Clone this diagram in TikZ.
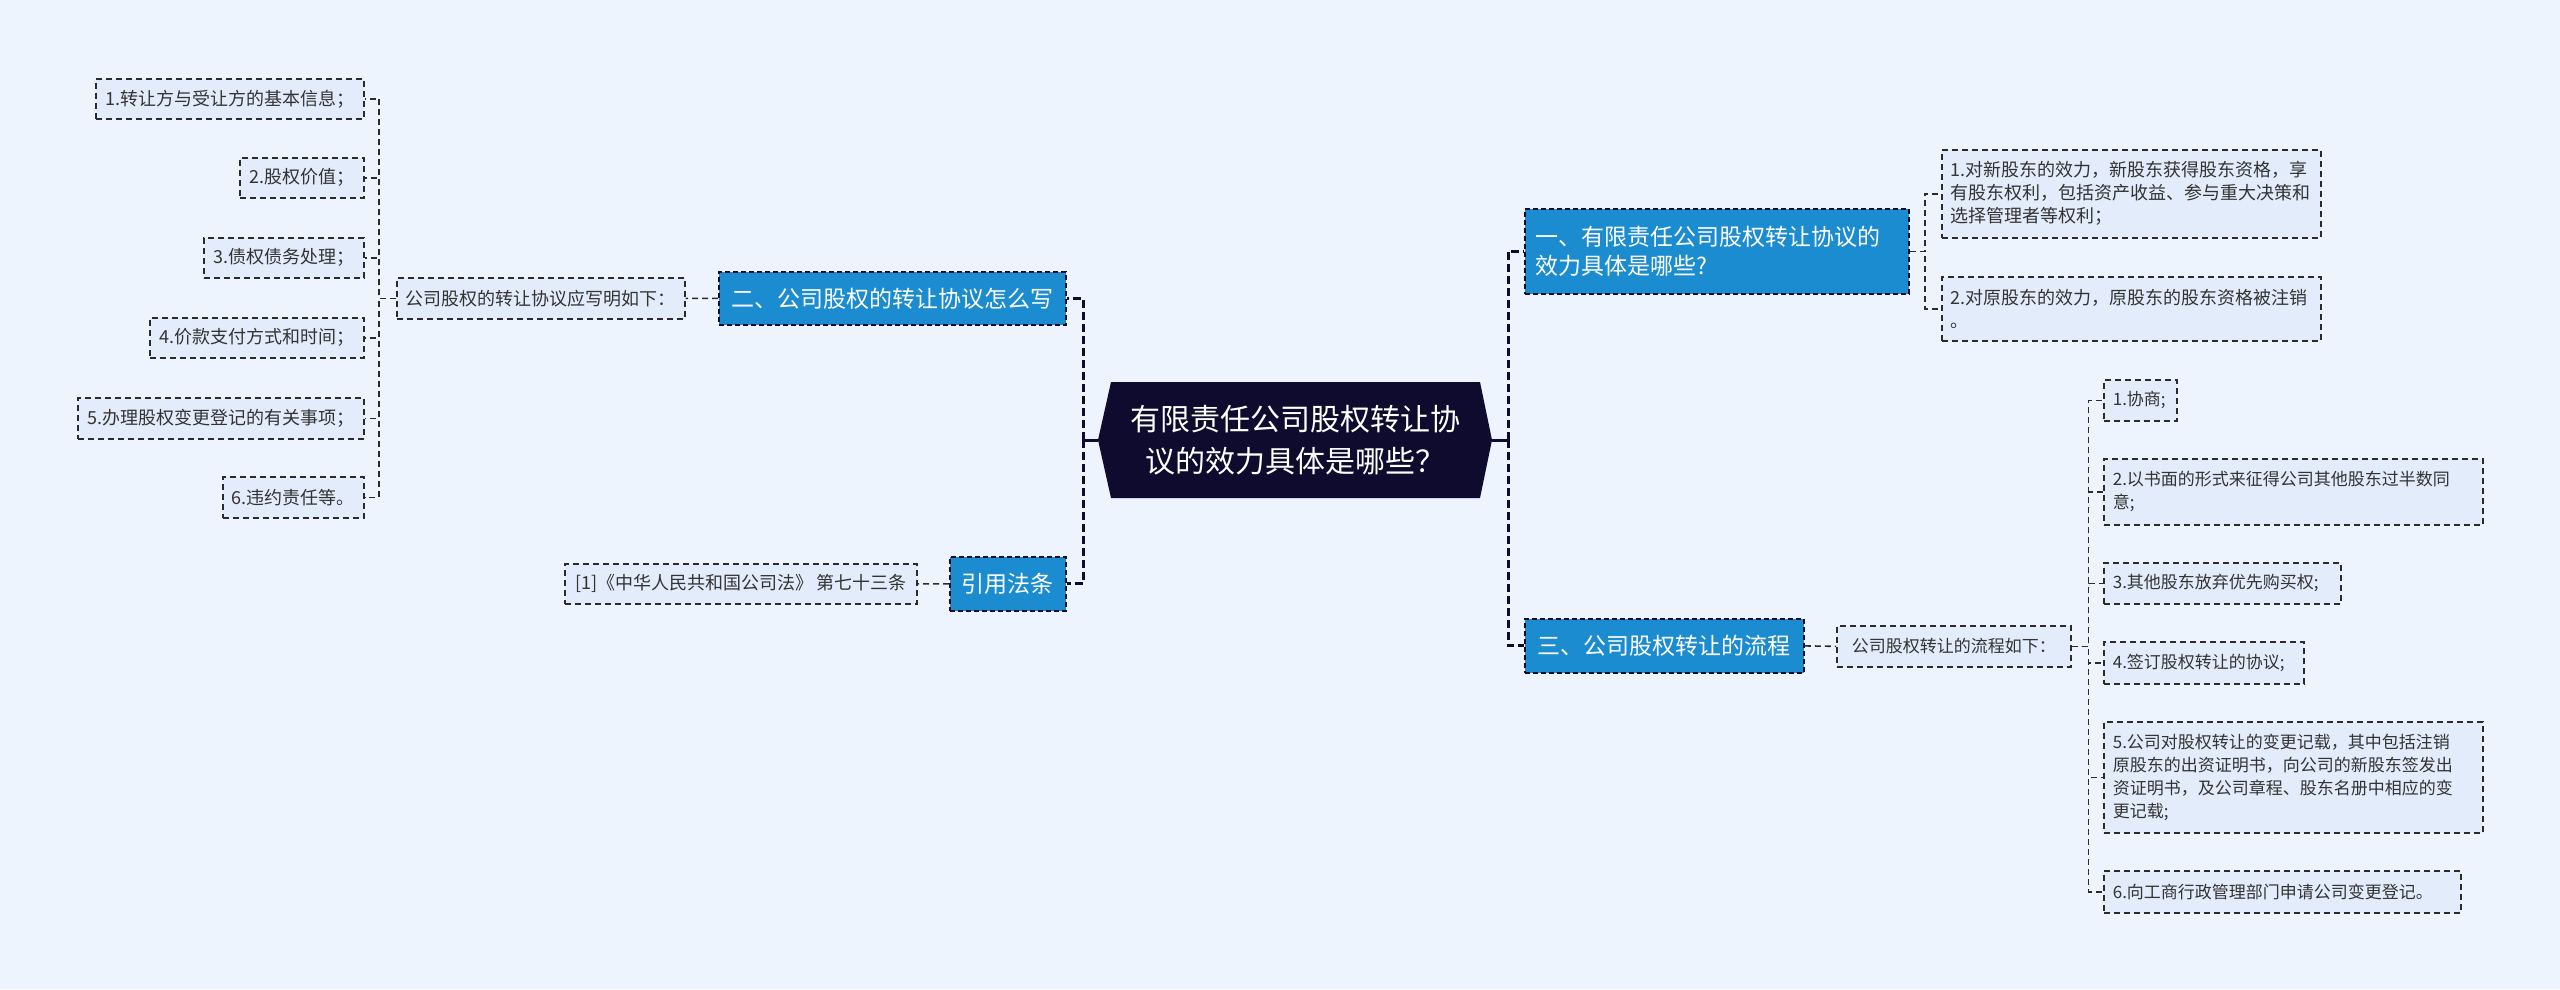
\documentclass[tikz,border=0pt]{standalone}
\usepackage{fontspec}
\setmainfont{Noto Sans CJK SC}
\definecolor{bg}{HTML}{EEF4FE}
\definecolor{sfill}{HTML}{E3ECFB}
\definecolor{sline}{HTML}{2B2B2B}
\definecolor{stext}{HTML}{333333}
\definecolor{blue1}{HTML}{1B8CD0}
\definecolor{navy}{HTML}{0E0B2E}
\begin{document}
\begin{tikzpicture}[x=1pt,y=-1pt,
  sbox/.style={draw=sline, line width=1.6pt, dash pattern=on 6pt off 4pt, fill=sfill, text=stext,
    font=\fontsize{18pt}{23pt}\selectfont, inner sep=0pt, anchor=north west},
  sboxr/.style={sbox, font=\fontsize{17pt}{23pt}\selectfont},
  multi/.style={align=left, inner xsep=9pt},
  bbox/.style={draw=navy, line width=1.8pt, dash pattern=on 5pt off 3pt, fill=blue1, text=white,
    font=\fontsize{23pt}{29pt}\selectfont, inner sep=0pt, anchor=north west},
  sconn/.style={draw=sline, line width=1.6pt, dash pattern=on 6pt off 4pt},
  tconn/.style={draw=navy, line width=3pt, dash pattern=on 8pt off 4pt},
  tsolid/.style={draw=navy, line width=3pt},
]
\path[fill=bg] (0,0) rectangle (2560,989);

% centre
\fill[navy] (1111,382) -- (1480,382) -- (1492,440) -- (1480,498) -- (1111,498) -- (1098,440) -- cycle;
\node[minimum width=394pt, minimum height=116pt, inner sep=0pt, text=white, align=center,
  font=\fontsize{30pt}{42pt}\selectfont] (C) at (1295,440) {有限责任公司股权转让协\\议的效力具体是哪些？};

% left main branches
\node[bbox, minimum width=347pt, minimum height=53pt] (B2) at (718,271) {二、公司股权的转让协议怎么写};
\node[bbox, minimum width=116pt, minimum height=54pt] (B4) at (949,556) {引用法条};
\node[sbox, minimum width=288pt, minimum height=41pt] (LP) at (396,277) {公司股权的转让协议应写明如下：};
\node[sbox, minimum width=352pt, minimum height=40pt] (LAW) at (564,563) {[1]《中华人民共和国公司法》\,第七十三条};

\node[sbox, minimum width=268pt, minimum height=40pt] (L1) at (95,78) {1.转让方与受让方的基本信息；};
\node[sbox, minimum width=124pt, minimum height=40pt] (L2) at (239,157) {2.股权价值；};
\node[sbox, minimum width=160pt, minimum height=40pt] (L3) at (203,237) {3.债权债务处理；};
\node[sbox, minimum width=214pt, minimum height=40pt] (L4) at (149,317) {4.价款支付方式和时间；};
\node[sbox, minimum width=286pt, minimum height=41pt] (L5) at (77,397) {5.办理股权变更登记的有关事项；};
\node[sbox, minimum width=141pt, minimum height=41pt] (L6) at (222,476) {6.违约责任等。};

% right main branches
\node[bbox, multi, text width=362pt, inner xsep=11pt, minimum height=85pt] (B1) at (1524,208)
  {一、有限责任公司股权转让协议的\\效力具体是哪些?};
\node[bbox, minimum width=279pt, minimum height=54pt] (B3) at (1524,618) {三、公司股权转让的流程};

\node[sbox, multi, text width=361pt, minimum height=88pt] (R1) at (1941,149)
  {1.对新股东的效力，新股东获得股东资格，享\\有股东权利，包括资产收益、参与重大决策和\\选择管理者等权利；};
\node[sbox, multi, text width=361pt, minimum height=64pt] (R2) at (1941,276)
  {2.对原股东的效力，原股东的股东资格被注销\\。};

\node[sboxr, minimum width=234pt, minimum height=41pt] (RP) at (1836,625) {公司股权转让的流程如下：};
\node[sboxr, multi, text width=55pt, minimum height=41pt] (S1) at (2103,379) {1.协商;};
\node[sboxr, multi, text width=361pt, minimum height=66pt] (S2) at (2103,458)
  {2.以书面的形式来征得公司其他股东过半数同\\意;};
\node[sboxr, multi, text width=219pt, minimum height=41pt] (S3) at (2103,562) {3.其他股东放弃优先购买权;};
\node[sboxr, multi, text width=182pt, minimum height=42pt] (S4) at (2103,641) {4.签订股权转让的协议;};
\node[sboxr, multi, text width=361pt, minimum height=111pt] (S5) at (2103,721)
  {5.公司对股权转让的变更记载，其中包括注销\\原股东的出资证明书，向公司的新股东签发出\\资证明书，及公司章程、股东名册中相应的变\\更记载;};
\node[sboxr, multi, text width=339pt, minimum height=42pt] (S6) at (2103,870) {6.向工商行政管理部门申请公司变更登记。};

% trunk connectors
\coordinate (tl) at (1083,440);
\coordinate (tr) at (1508,440);
\draw[tsolid] (C.west) -- (tl);
\draw[tsolid] (C.east) -- (tr);
\draw[tconn] (tl) |- (B2.east);
\draw[tconn] (tl) |- (B4.east);
\draw[tconn] (tr) |- (B1.west);
\draw[tconn] (tr) |- (B3.west);

% level-2 connectors
\draw[sconn] (B2.west) -- (LP.east);
\draw[sconn] (B4.west) -- (LAW.east);
\draw[sconn] (B3.east) -- (RP.west);
\foreach \n in {L1,L2,L3,L4,L5,L6}{
  \draw[sconn] (LP.west) -- ++(-17,0) |- (\n.east);
}
\foreach \n in {R1,R2}{
  \draw[sconn] (B1.east) -- ++(15,0) |- (\n.west);
}
\foreach \n in {S1,S2,S3,S4,S5,S6}{
  \draw[sconn] (RP.east) -- ++(17,0) |- (\n.west);
}
\end{tikzpicture}
\end{document}
